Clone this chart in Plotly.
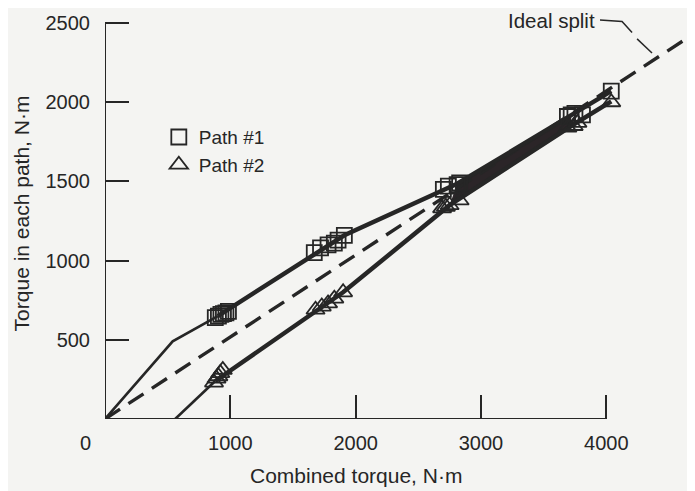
import plotly.graph_objects as go

# combined torque (x) vs torque carried by each path (y), N·m
p1_x = [880, 905, 925, 945, 965, 985, 1670, 1720, 1780, 1830, 1860, 1910,
        2700, 2740, 2810, 2830, 3690, 3720, 3750, 3810, 4040]
p1_y = [640, 650, 660, 665, 670, 680, 1050, 1080, 1100, 1110, 1130, 1160,
        1450, 1470, 1480, 1490, 1910, 1920, 1930, 1920, 2070]
p2_x = [870, 890, 905, 920, 940, 1680, 1730, 1780, 1830, 1900,
        2690, 2720, 2750, 2830, 3690, 3740, 3770, 4040]
p2_y = [230, 255, 270, 290, 310, 690, 710, 730, 760, 800,
        1330, 1340, 1350, 1380, 1840, 1850, 1870, 2000]

# faired curves through the data (thin = extrapolated part)
fit1_thin_x = [0, 540, 900]
fit1_thin_y = [0, 490, 650]
fit1_x = [900, 1910, 2810, 3720, 4040]
fit1_y = [650, 1160, 1485, 1920, 2070]
fit2_thin_x = [560, 880]
fit2_thin_y = [0, 240]
fit2_x = [880, 1900, 2750, 3720, 4040]
fit2_y = [240, 800, 1350, 1850, 2005]

# ideal split line as drawn on the original
ideal_x = [0, 4800]
ideal_y = [0, 2485]

xticks = [1000, 2000, 3000, 4000]
yticks = [500, 1000, 1500, 2000, 2500]

# leader from the "Ideal split" label to the dashed line
lead_a_x = [3950, 4126, 4206]
lead_a_y = [2520, 2510, 2440]
lead_b_x = [4246, 4365]
lead_b_y = [2400, 2311]

ink = "#262626"
bg = "#f4f4f2"
font = "Liberation Sans, Arial, sans-serif"

fig = go.Figure()

# dark band between the two paths at high torque
band_x = fit1_x[2:4] + fit2_x[2:4][::-1]
band_y = fit1_y[2:4] + fit2_y[2:4][::-1]
fig.add_trace(go.Scatter(x=band_x, y=band_y, fill="toself", fillcolor="#2b2528",
                         line=dict(width=0), mode="lines", showlegend=False, hoverinfo="skip"))

fig.add_trace(go.Scatter(x=ideal_x, y=ideal_y, mode="lines", showlegend=False,
                         line=dict(color=ink, width=3.4, dash="18px,10px")))

for xs, ys, w in [(fit1_thin_x, fit1_thin_y, 2.6), (fit1_x, fit1_y, 4.5),
                  (fit2_thin_x, fit2_thin_y, 2.6), (fit2_x, fit2_y, 4.5)]:
    fig.add_trace(go.Scatter(x=xs, y=ys, mode="lines", showlegend=False,
                             line=dict(color=ink, width=w)))

fig.add_trace(go.Scatter(x=lead_a_x, y=lead_a_y, mode="lines", showlegend=False,
                         line=dict(color=ink, width=1.5)))
fig.add_trace(go.Scatter(x=lead_b_x, y=lead_b_y, mode="lines", showlegend=False,
                         line=dict(color=ink, width=1.5)))

fig.add_trace(go.Scatter(x=p1_x, y=p1_y, mode="markers", name="Path #1",
                         marker=dict(symbol="square-open", size=15, color=ink,
                                     line=dict(width=1.8, color=ink))))
fig.add_trace(go.Scatter(x=p2_x, y=p2_y, mode="markers", name="Path #2",
                         marker=dict(symbol="triangle-up-open", size=16, color=ink,
                                     line=dict(width=1.8, color=ink))))

# axis lines only span the labelled range
fig.add_shape(type="line", x0=0, y0=0, x1=4000, y1=0, line=dict(color=ink, width=2))
fig.add_shape(type="line", x0=0, y0=0, x1=0, y1=2500, line=dict(color=ink, width=2))

fig.add_annotation(x=0, y=0, text="0", showarrow=False, xanchor="center", yanchor="middle",
                   xshift=-20, yshift=-24, font=dict(size=20, color=ink, family=font))
fig.add_annotation(x=3925, y=2515, text="Ideal split", showarrow=False, xanchor="right",
                   yanchor="middle", font=dict(size=20.5, color=ink, family=font))
# x title sits under the 2000 tick, not centred on the plot area
fig.add_annotation(x=2000, y=0, text="Combined torque, N·m", showarrow=False,
                   xanchor="center", yanchor="middle", yshift=-56,
                   font=dict(size=21, color=ink, family=font))

# the page body adds an 8px offset, so margins are trimmed by that amount
fig.update_layout(
    width=695, height=491,
    margin=dict(l=97, r=0, t=0, b=80),
    paper_bgcolor=bg, plot_bgcolor=bg,
    font=dict(family=font, size=20, color=ink),
    legend=dict(x=0.09, y=0.732, xanchor="left", yanchor="top",
                bgcolor="rgba(0,0,0,0)", font=dict(size=19), tracegroupgap=0),
)
fig.update_xaxes(range=[0, 4772], tickvals=xticks, ticktext=[str(v) for v in xticks],
                 ticks="inside", ticklen=24, tickwidth=2, tickcolor=ink, automargin=False,
                 showgrid=False, zeroline=False, showline=False, ticklabelstandoff=10)
fig.update_yaxes(range=[0, 2595], tickvals=yticks, ticktext=[str(v) for v in yticks],
                 ticks="inside", ticklen=24, tickwidth=2, tickcolor=ink, automargin=False,
                 showgrid=False, zeroline=False, showline=False, ticklabelstandoff=14,
                 title=dict(text="Torque in each path, N·m", font=dict(size=21), standoff=10))

fig.write_html("out.html")
